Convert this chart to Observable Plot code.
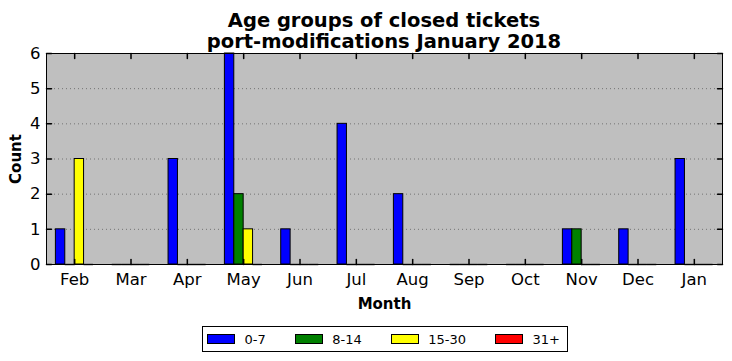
<!DOCTYPE html>
<html>
<head>
<meta charset="utf-8">
<script src="https://cdn.jsdelivr.net/npm/d3@7"></script>
<script src="https://cdn.jsdelivr.net/npm/@observablehq/plot@0.6"></script>
<style>
  body { margin: 0; background: white; font-family: "DejaVu Sans", sans-serif; }
  #title { height: 44px; margin-left: 46px; width: 676px; text-align: center; font-weight: bold;
           font-size: 19.5px; line-height: 21px; padding-top: 0; box-sizing: border-box; position: relative; }
  #title div:first-child { padding-top: 9.5px; }
  #chart svg { display: block; background: transparent; }
  #legend { margin-left: 202px; margin-top: 6px; width: 366px; height: 26px; box-sizing: border-box;
            border: 1px solid black; display: flex; align-items: center; padding-left: 4px; font-size: 13px; }
  .item { display: flex; align-items: center; margin-right: 29px; }
  .sw { width: 28px; height: 10px; box-sizing: border-box; border: 1px solid black; margin-right: 9.5px; }
</style>
</head>
<body>
<div id="title"><div>Age groups of closed tickets</div><div>port-modifications January 2018</div></div>
<div id="chart"></div>
<div id="legend"></div>
<script>
const months = ["Feb","Mar","Apr","May","Jun","Jul","Aug","Sep","Oct","Nov","Dec","Jan"];
const series = ["0-7","8-14","15-30","31+"];
const colors = ["#0000ff","#008000","#ffff00","#ff0000"];
const v0_7   = [1,0,3,6,1,4,2,0,0,1,1,3];
const v8_14  = [0,0,0,2,0,0,0,0,0,1,0,0];
const v15_30 = [3,0,0,1,0,0,0,0,0,0,0,0];
const v31    = [0,0,0,0,0,0,0,0,0,0,0,0];
const yTicks = [0,1,2,3,4,5,6];

const values = [v0_7, v8_14, v15_30, v31];
const barW = 1/6;
const data = [];
values.forEach((arr, k) => arr.forEach((v, i) => {
  data.push({month: months[i], series: series[k], value: v, x1: i + 0.5 + (k - 2) * barW, x2: i + 0.5 + (k - 1) * barW});
}));
const tickPos = months.map((m, i) => i + 0.5);

const lineShape = {draw(context, l) { context.moveTo(0, 0); context.lineTo(0, -l); }};

const plot = Plot.plot({
  width: 732,
  height: 276,
  marginLeft: 46,
  marginRight: 10,
  marginTop: 9,
  marginBottom: 56,
  style: {fontFamily: "DejaVu Sans", fontSize: "16.5px", background: "transparent", overflow: "visible"},
  x: {type: "linear", domain: [0, 12], nice: false},
  y: {type: "linear", domain: [0, 6], nice: false},
  color: {domain: series, range: colors},
  marks: [
    Plot.frame({fill: "#bfbfbf", stroke: null}),
    Plot.gridY(yTicks.slice(1, -1), {stroke: "#000", strokeOpacity: 0.4, strokeDasharray: "1,3", strokeWidth: 1}),
    Plot.rect(data.filter(d => d.value > 0), {x1: "x1", x2: "x2", y1: 0, y2: "value", fill: "series", stroke: "black", strokeWidth: 1}),
    Plot.ruleY(data.filter(d => d.value === 0), {x1: "x1", x2: "x2", y: 0, stroke: "#333", strokeWidth: 1.5}),
    Plot.frame({stroke: "black", strokeWidth: 1}),
    Plot.vector(tickPos, {x: d => d, y: 0, length: 5, rotate: 0, anchor: "start", shape: lineShape, stroke: "black"}),
    Plot.vector(tickPos, {x: d => d, y: 6, length: 5, rotate: 180, anchor: "start", shape: lineShape, stroke: "black"}),
    Plot.vector(yTicks, {x: 0, y: d => d, length: 5, rotate: 90, anchor: "start", shape: lineShape, stroke: "black"}),
    Plot.vector(yTicks, {x: 12, y: d => d, length: 5, rotate: -90, anchor: "start", shape: lineShape, stroke: "black"}),
    Plot.axisX({ticks: tickPos, tickFormat: d => months[Math.round(d - 0.5)], tickSize: 0, tickPadding: 9, label: null, fontSize: 16.5}),
    Plot.axisY({ticks: yTicks, tickFormat: d => String(d), tickSize: 0, tickPadding: 6, label: null, fontSize: 16.5}),
    Plot.text(["Month"], {frameAnchor: "bottom", dy: 44, fontWeight: "bold", fontSize: 15}),
    Plot.text(["Count"], {frameAnchor: "left", dx: -30, rotate: -90, textAnchor: "middle", fontWeight: "bold", fontSize: 15})
  ]
});
document.getElementById("chart").appendChild(plot);

const legend = d3.select("#legend");
series.forEach((s, k) => {
  const item = legend.append("div").attr("class", "item");
  item.append("div").attr("class", "sw").style("background", colors[k]);
  item.append("span").text(s);
});
legend.select(".item:last-child").style("margin-right", "0px");
</script>
</body>
</html>
